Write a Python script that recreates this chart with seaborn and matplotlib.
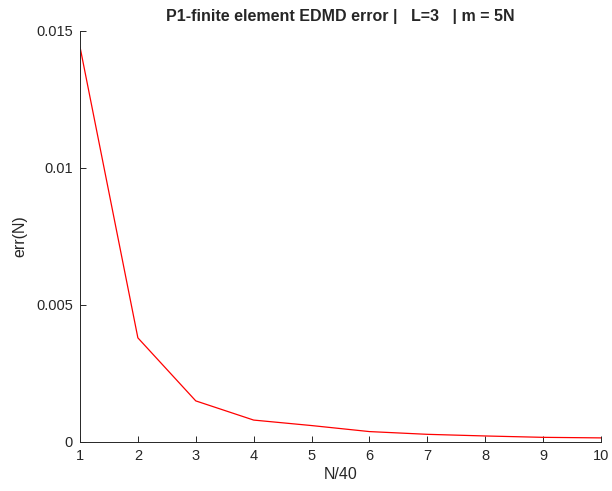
import numpy as np
import pandas as pd
import matplotlib
matplotlib.use("Agg")
import matplotlib.pyplot as plt
import seaborn as sns

# error of P1 finite element EDMD vs N/40
n_scaled = [1, 2, 3, 4, 5, 6, 7, 8, 9, 10]
err = [0.01442, 0.0038, 0.0015, 0.0008, 0.0006, 0.00038, 0.00028, 0.00022, 0.00017, 0.00015]
x_ticks = [1, 2, 3, 4, 5, 6, 7, 8, 9, 10]
y_ticks = [0, 0.005, 0.01, 0.015]
y_labels = ["0", "0.005", "0.01", "0.015"]

sns.set_style("ticks")
plt.rcParams['font.family'] = ['Liberation Sans', 'DejaVu Sans']

df = pd.DataFrame({"N/40": n_scaled, "err(N)": err})

fig = plt.figure(figsize=(6.12, 4.91), dpi=100)
ax = fig.add_axes([0.1307, 0.0998, 0.8513, 0.8372])
sns.lineplot(data=df, x="N/40", y="err(N)", color="#ff0000", linewidth=0.9, ax=ax)

ax.set_xlim(1, 10)
ax.set_ylim(0, 0.015)
ax.set_xticks(x_ticks)
ax.set_yticks(y_ticks)
ax.set_yticklabels(y_labels)
ax.tick_params(direction="in", length=4, width=0.7, colors="#262626",
               labelsize=10.5, pad=5)
for s in ["top", "right"]:
    ax.spines[s].set_visible(False)
for s in ["left", "bottom"]:
    ax.spines[s].set_color("#262626")
    ax.spines[s].set_linewidth(0.7)

ax.set_xlabel("N/40", fontsize=11.5, color="#262626", labelpad=3)
ax.set_ylabel("err(N)", fontsize=11.5, color="#262626", labelpad=6)
ax.set_title("P1-finite element EDMD error |   L=3   | m = 5N",
             fontsize=11.5, fontweight="bold", pad=7)

fig.savefig("out.png", dpi=100)
